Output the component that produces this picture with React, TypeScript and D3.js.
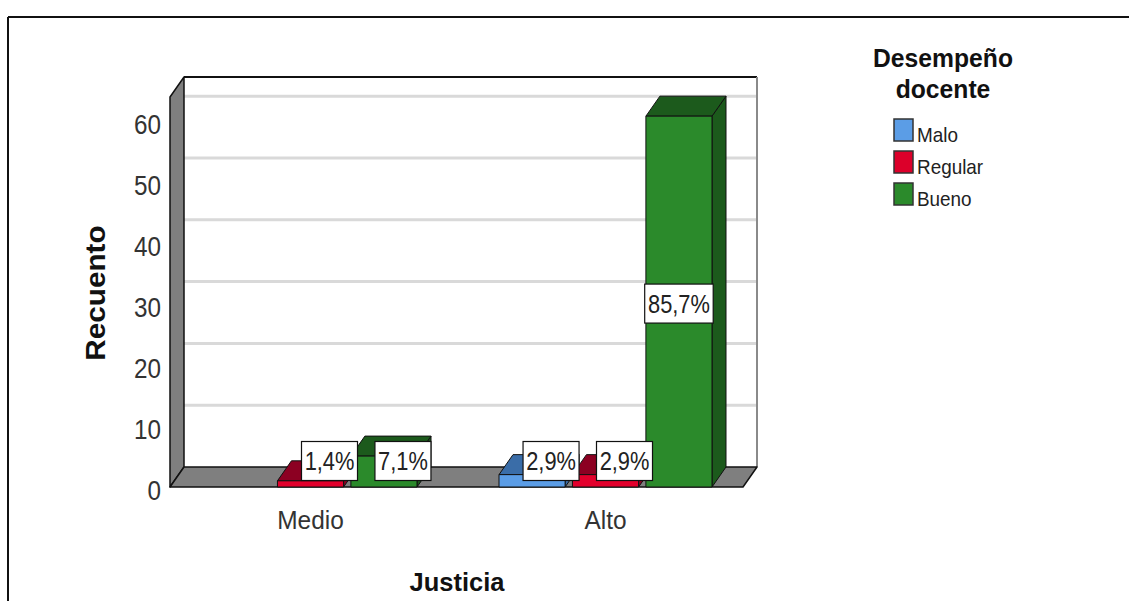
import React from "react";
import * as d3 from "d3";

const categories = ["Medio", "Alto"];
const seriesNames = ["Malo", "Regular", "Bueno"];
const maloCounts = [0, 2];
const regularCounts = [1, 2];
const buenoCounts = [5, 60];
const yTicks = [0, 10, 20, 30, 40, 50, 60];
const gridTicks = [10, 20, 30, 40, 50, 60];
const frontColors = ["#5b9de6", "#e2002c", "#2b8a2b"];
const darkColors = ["#3a6da8", "#8c0022", "#1c5a1c"];
const legendColors = ["#5b9de6", "#dc002a", "#2b8a2b"];

const FONT = "'Liberation Sans', Arial, sans-serif";

function T(props: {
  x: number; y: number; sx?: number; size: number; anchor?: string; weight?: string; fill?: string; rotate?: number; children: any;
}) {
  const { x, y, sx = 1, size, anchor = "middle", weight = "normal", fill = "#222", rotate = 0 } = props;
  return (
    <g transform={`translate(${x},${y}) rotate(${rotate}) scale(${sx},1)`}>
      <text x={0} y={0} fontSize={size} fontFamily={FONT} fontWeight={weight} textAnchor={anchor} fill={fill}>
        {props.children}
      </text>
    </g>
  );
}

export default function App() {
  const W = 1129, H = 601;
  const floorY = 487, dx = 14, dy = -20;
  const left = 170, right = 743;
  const yMax = 63.1;
  const y = d3.scaleLinear().domain([0, yMax]).range([floorY, 97]);
  const x0 = d3.scaleBand().domain(categories).range([163, 753]);
  const x1 = d3.scaleBand().domain(seriesNames).range([-106.5, 106.5]).paddingInner(0.1);
  const tickY = d3.scaleLinear().domain([0, 60]).range([500, 134]);
  const values = [maloCounts, regularCounts, buenoCounts];
  const total = d3.sum(values.flat());
  const pct = (v: number) => d3.format(".1f")((v / total) * 100).replace(".", ",") + "%";
  const w = x1.bandwidth();
  const top = y(yMax);

  const bars: any[] = [];
  categories.forEach((cat, i) => {
    seriesNames.forEach((name, j) => {
      const v = values[j][i];
      if (v <= 0) return;
      const bx = (x0(cat) as number) + x0.bandwidth() / 2 + (x1(name) as number);
      bars.push({ cat, name, j, v, bx, yt: y(v) });
    });
  });

  const boxH = 39;

  return (
    <div style={{ position: "absolute", left: 0, top: 0 }}>
      <svg width={W} height={H} style={{ display: "block", background: "#fff" }}>
        {/* outer frame */}
        <line x1={8} y1={17} x2={W} y2={17} stroke="#111" strokeWidth={2} />
        <line x1={8} y1={17} x2={8} y2={H} stroke="#111" strokeWidth={2} />

        {/* back wall */}
        <rect x={left + dx} y={top + dy} width={right - left} height={floorY - top} fill="#fff" />
        {gridTicks.map((t) => (
          <line key={t} x1={left + dx} x2={right + dx} y1={y(t) + dy} y2={y(t) + dy} stroke="#d9d9d9" strokeWidth={3} />
        ))}
        <line x1={left + dx} y1={top + dy} x2={right + dx} y2={top + dy} stroke="#111" strokeWidth={2} />
        <line x1={right + dx} y1={top + dy} x2={right + dx} y2={floorY + dy} stroke="#8a8a8a" strokeWidth={2} />

        {/* left wall */}
        <polygon
          points={`${left},${floorY} ${left},${top} ${left + dx},${top + dy} ${left + dx},${floorY + dy}`}
          fill="#7f7f7f" stroke="#111" strokeWidth={1.5} strokeLinejoin="round"
        />
        {/* floor */}
        <polygon
          points={`${left},${floorY} ${right},${floorY} ${right + dx},${floorY + dy} ${left + dx},${floorY + dy}`}
          fill="#7f7f7f" stroke="#111" strokeWidth={1.5} strokeLinejoin="round"
        />

        {/* bars */}
        {bars.map((b, k) => (
          <g key={k} stroke="#111" strokeWidth={1} strokeLinejoin="round">
            <polygon
              points={`${b.bx + w},${b.yt} ${b.bx + w + dx},${b.yt + dy} ${b.bx + w + dx},${floorY + dy} ${b.bx + w},${floorY}`}
              fill={darkColors[b.j]}
            />
            <polygon
              points={`${b.bx},${b.yt} ${b.bx + w},${b.yt} ${b.bx + w + dx},${b.yt + dy} ${b.bx + dx},${b.yt + dy}`}
              fill={darkColors[b.j]}
            />
            <rect x={b.bx} y={b.yt} width={w} height={floorY - b.yt} fill={frontColors[b.j]} />
          </g>
        ))}

        {/* value labels */}
        {bars.map((b, k) => {
          const label = pct(b.v);
          const bw = label.length * 12.5 + 6;
          const small = floorY - b.yt < boxH;
          const cx = b.bx + w / 2 + (small ? 19 : 0);
          const cy = small ? floorY - 26 : (b.yt + floorY) / 2 + 2;
          return (
            <g key={"l" + k}>
              <rect x={cx - bw / 2} y={cy - boxH / 2} width={bw} height={boxH} fill="#fff" stroke="#111" strokeWidth={1.2} />
              <T x={cx} y={cy + 9} size={26} sx={0.84} fill="#222">{label}</T>
            </g>
          );
        })}

        {/* y tick labels */}
        {yTicks.map((t) => (
          <T key={t} x={161} y={tickY(t)} size={27} sx={0.9} anchor="end" fill="#333">{t}</T>
        ))}

        {/* category labels */}
        {categories.map((c) => (
          <T key={c} x={(x0(c) as number) + x0.bandwidth() / 2} y={529} size={26} sx={0.94} fill="#333">{c}</T>
        ))}

        {/* axis titles */}
        <T x={105} y={293} size={27} weight="bold" rotate={-90} sx={1.1} fill="#111">Recuento</T>
        <T x={457} y={591} size={26} weight="bold" sx={0.98} fill="#111">Justicia</T>

        {/* legend */}
        <T x={943} y={67} size={26} weight="bold" sx={0.95} fill="#111">Desempeño</T>
        <T x={943} y={98} size={26} weight="bold" sx={0.95} fill="#111">docente</T>
        {seriesNames.map((s, j) => (
          <g key={s}>
            <rect x={894} y={119 + j * 32} width={19} height={22} fill={legendColors[j]} stroke="#333" strokeWidth={1.5} />
            <T x={917} y={142 + j * 32} size={21} sx={0.9} anchor="start" fill="#222">{s}</T>
          </g>
        ))}
      </svg>
    </div>
  );
}
